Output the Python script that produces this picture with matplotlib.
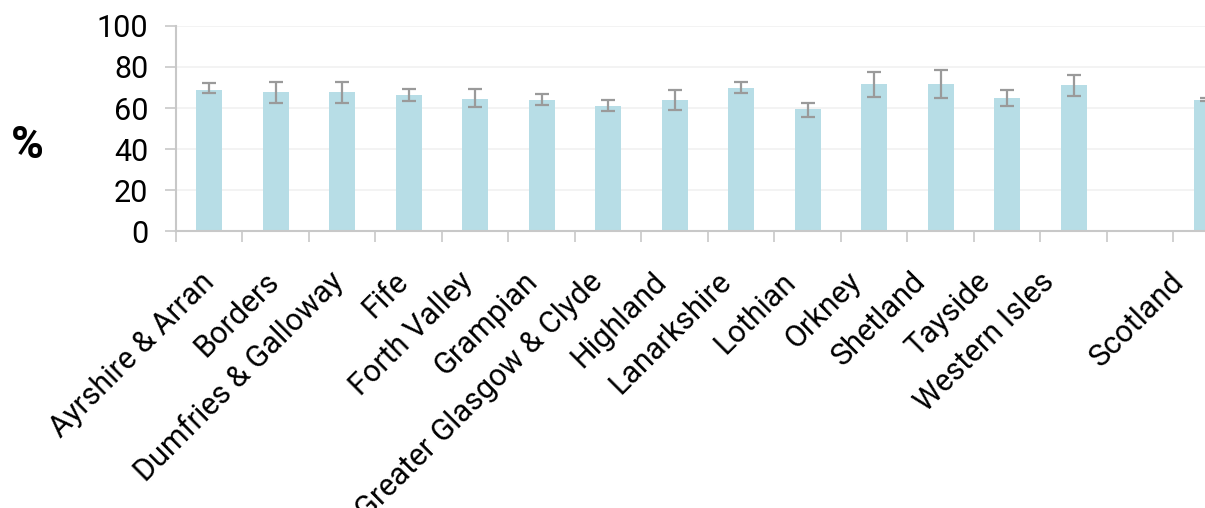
import matplotlib
matplotlib.use("Agg")
import matplotlib.pyplot as plt
from matplotlib.transforms import ScaledTranslation

# dados (percentagem e intervalo de confiança)
regions = ["Ayrshire & Arran", "Borders", "Dumfries & Galloway", "Fife", "Forth Valley",
           "Grampian", "Greater Glasgow & Clyde", "Highland", "Lanarkshire", "Lothian",
           "Orkney", "Shetland", "Tayside", "Western Isles", "", "Scotland"]
values = [69.0, 67.7, 67.7, 66.2, 64.5, 63.8, 61.0, 63.8, 69.7, 59.3,
          71.6, 71.6, 65.1, 71.0, None, 64.1]
ci_low = [67.1, 62.5, 62.5, 63.3, 60.5, 61.7, 58.6, 59.1, 67.1, 55.7,
          65.6, 64.9, 61.0, 65.8, None, 63.5]
ci_high = [72.1, 72.7, 72.7, 69.3, 69.3, 66.9, 64.1, 68.8, 72.7, 62.2,
           77.3, 78.4, 68.7, 76.0, None, 65.1]
yticks = [0, 20, 40, 60, 80, 100]

bar_color = "#b7dde6"
err_color = "#9a9a9a"
axis_color = "#c8c8c8"

plt.rcParams["font.family"] = ["Roboto", "DejaVu Sans"]

fig = plt.figure(figsize=(12.05, 5.08), dpi=100)
ax = fig.add_axes([0.146, 0.545, 0.883, 0.404])

xs = []
ys = []
lo = []
hi = []
for i, v in enumerate(values):
    if v is None:
        continue
    xs.append(i)
    ys.append(v)
    lo.append(v - ci_low[i])
    hi.append(ci_high[i] - v)

ax.bar(xs, ys, width=0.39, color=bar_color, zorder=2)
ax.errorbar(xs, ys, yerr=[lo, hi], fmt="none", ecolor=err_color, elinewidth=1.6,
            capsize=4.7, capthick=1.6, zorder=3)

ax.set_xlim(-0.5, len(regions) - 0.5)
ax.set_ylim(0, 100)
ax.set_yticks(yticks)
ax.grid(axis="y", color="#f1f1f1", linewidth=1.2, zorder=0)

# ticks nas fronteiras entre categorias
ax.set_xticks([i - 0.5 for i in range(len(regions) + 1)])
ax.set_xticklabels([])
ax.tick_params(axis="x", length=8, width=1.2, color=axis_color)
ax.tick_params(axis="y", length=8, width=1.2, color=axis_color, labelsize=22, pad=12)

# etiquetas rodadas, ligeiramente comprimidas para a esquerda (como no original)
for i, name in enumerate(regions):
    if name == "":
        continue
    dx = (1 - 1.9 * i) / fig.dpi
    trans = ax.get_xaxis_transform() + ScaledTranslation(dx, -46 / fig.dpi, fig.dpi_scale_trans)
    ax.text(i, 0, name, transform=trans, rotation=45, ha="right", va="center",
            rotation_mode="anchor", fontsize=22)

for side in ["top", "right"]:
    ax.spines[side].set_visible(False)
for side in ["left", "bottom"]:
    ax.spines[side].set_color(axis_color)
    ax.spines[side].set_linewidth(1.5)

fig.text(0.023, 1 - 146 / 508, "%", fontsize=32, fontweight="bold", ha="center", va="center")

fig.savefig("out.png", dpi=100)
